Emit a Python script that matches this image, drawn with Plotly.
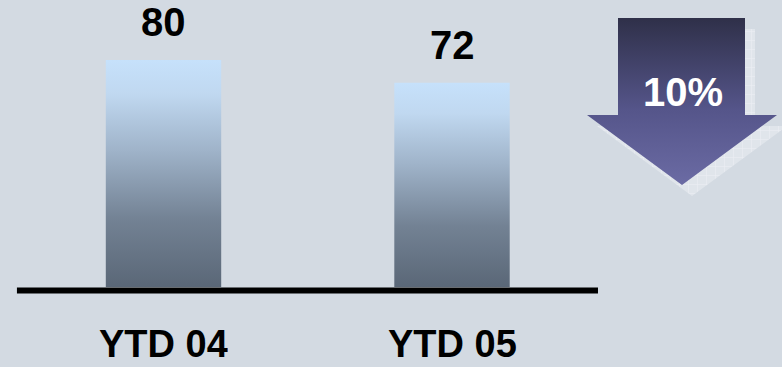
import plotly.graph_objects as go

# Data
categories = ["YTD 04", "YTD 05"]
values = [80, 72]
change_label = "10%"

BG = "#d3dae2"
FONT = "Liberation Sans, Arial, sans-serif"
bar_width = 0.4

bar_scale = [
    [0.0, "#5a6777"],
    [0.3, "#738294"],
    [0.6, "#9fb3c9"],
    [0.85, "#c0d8f0"],
    [1.0, "#c6e1fb"],
]

fig = go.Figure()

# Bars as filled rectangles so each can carry a vertical gradient
for i, (cat, v) in enumerate(zip(categories, values)):
    x0, x1 = i - bar_width / 2, i + bar_width / 2
    fig.add_trace(go.Scatter(
        x=[x0, x1, x1, x0, x0],
        y=[0, 0, v, v, 0],
        mode="lines",
        line=dict(width=0),
        fill="toself",
        fillgradient=dict(type="vertical", colorscale=bar_scale),
        name=cat,
        hoverinfo="skip",
        showlegend=False,
    ))
    # value label above the bar
    fig.add_annotation(
        x=i, y=v, xref="x", yref="y", text=f"<b>{v}</b>",
        showarrow=False, yanchor="middle", yshift=38,
        font=dict(family=FONT, size=40, color="black"),
    )
    # category label below the baseline
    fig.add_annotation(
        x=i, y=0, xref="x", yref="y", text=f"<b>{cat}</b>",
        showarrow=False, yanchor="middle", yshift=-57, height=34,
        font=dict(family=FONT, size=38, color="black"),
    )

# Baseline
fig.add_shape(type="line", xref="x", yref="y",
              x0=-0.508, x1=1.506, y0=-1.2, y1=-1.2,
              line=dict(color="black", width=6))

# Down arrow (pixel-space overlay axes, y grows downward)
arrow_x = [618, 745, 745, 777, 682, 587, 618, 618]
arrow_y = [18, 18, 115, 115, 185, 115, 115, 18]
dx, dy = 10, 11
fig.add_trace(go.Scatter(
    x=[a + dx for a in arrow_x], y=[b + dy for b in arrow_y],
    xaxis="x2", yaxis="y2", mode="lines", line=dict(width=0),
    fill="toself", fillcolor="#e2e6ec",
    fillpattern=dict(shape="+", bgcolor="#e0e5eb", fgcolor="#f7f9fb",
                     size=9, solidity=0.12),
    hoverinfo="skip", showlegend=False,
))
fig.add_trace(go.Scatter(
    x=arrow_x, y=arrow_y, xaxis="x2", yaxis="y2", mode="lines",
    line=dict(width=0), fill="toself",
    fillgradient=dict(type="vertical",
                      colorscale=[[0, "#6b6ba4"], [0.45, "#55558a"], [1, "#2f3049"]]),
    hoverinfo="skip", showlegend=False,
))
fig.add_annotation(
    x=682.5, y=92, xref="x2", yref="y2", text=f"<b>{change_label}</b>",
    showarrow=False, yanchor="middle",
    font=dict(family=FONT, size=40, color="white"),
)

fig.update_layout(
    width=782, height=367,
    margin=dict(l=0, r=0, t=0, b=0),
    paper_bgcolor=BG, plot_bgcolor=BG,
    xaxis=dict(range=[-0.5667, 2.1438], domain=[0, 1], visible=False, fixedrange=True),
    yaxis=dict(range=[-28.19, 101.15], domain=[0, 1], visible=False, fixedrange=True),
    xaxis2=dict(range=[0, 782], domain=[0, 1], overlaying="x", visible=False, fixedrange=True),
    yaxis2=dict(range=[367, 0], domain=[0, 1], overlaying="y", visible=False, fixedrange=True),
    showlegend=False,
)

fig.write_html("out.html")
